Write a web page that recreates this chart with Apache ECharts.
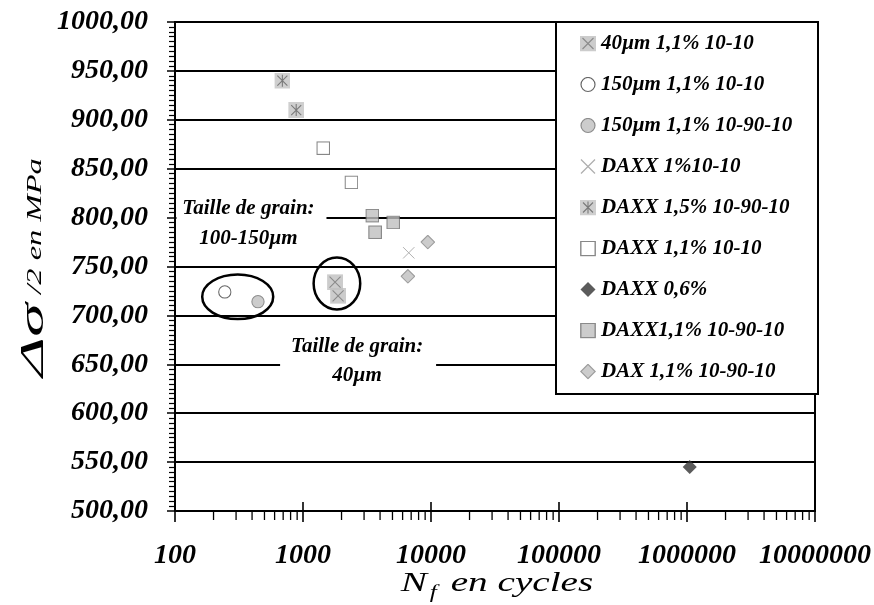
<!DOCTYPE html>
<html>
<head>
<meta charset="utf-8">
<script src="https://cdn.jsdelivr.net/npm/echarts@6.0.0/dist/echarts.min.js"></script>
<style>
html, body { margin: 0; padding: 0; background: #fff; }
#chart { width: 874px; height: 605px; }
</style>
</head>
<body>
<div id="chart"></div>
<script>
// decades on the cycles axis, and the 2..9 minor steps inside each decade
var cycleTicks = [100, 1000, 10000, 100000, 1000000, 10000000];
var minorSteps = [2, 3, 4, 5, 6, 7, 8, 9];

// [cycles to failure, stress amplitude MPa]
var g40_1010 = [[1780, 734], [1880, 720]];
var g150_1010 = [[245, 724]];
var g150_109010 = [[445, 714]];
var daxx1_1010 = [[6700, 764]];
var daxx15_109010 = [[690, 940], [885, 910]];
var daxx11_1010 = [[1440, 871], [2390, 836]];
var daxx06 = [[1050000, 545]];
var daxx11_109010 = [[3480, 802], [3660, 785], [5070, 795]];
var dax11_109010 = [[9440, 775], [6600, 740]];

var seriesNames = ['40µm 1,1% 10-10', '150µm 1,1% 10-10', '150µm 1,1% 10-90-10',
  'DAXX 1%10-10', 'DAXX 1,5% 10-90-10', 'DAXX 1,1% 10-10', 'DAXX 0,6%',
  'DAXX1,1% 10-90-10', 'DAX 1,1% 10-90-10'];
var seriesData = [g40_1010, g150_1010, g150_109010, daxx1_1010, daxx15_109010,
  daxx11_1010, daxx06, daxx11_109010, dax11_109010];

var serif = '"Liberation Serif", "Times New Roman", serif';

function svgSymbol(inner) {
  return 'image://data:image/svg+xml;charset=utf-8,' + encodeURIComponent(
    '<svg xmlns="http://www.w3.org/2000/svg" width="32" height="32" viewBox="0 0 16 16">' + inner + '</svg>');
}

var symbols = [
  svgSymbol('<rect width="16" height="16" fill="#c0c0c0"/><path d="M2.5 2.5L13.5 13.5M13.5 2.5L2.5 13.5" stroke="#6e6e6e" stroke-width="1.1" fill="none"/>'),
  svgSymbol('<circle cx="8" cy="8" r="7" fill="#fff" stroke="#404040" stroke-width="1.2"/>'),
  svgSymbol('<circle cx="8" cy="8" r="7" fill="#c0c0c0" stroke="#707070" stroke-width="1.2"/>'),
  svgSymbol('<path d="M1 1L15 15M15 1L1 15" stroke="#9a9a9a" stroke-width="1.2" fill="none"/>'),
  svgSymbol('<rect width="16" height="16" fill="#c4c4c4"/><path d="M8 2V14M3 3L13 13M13 3L3 13" stroke="#5a5a5a" stroke-width="1.1" fill="none"/>'),
  svgSymbol('<rect x="0.8" y="0.8" width="14.4" height="14.4" fill="#fff" stroke="#6a6a6a" stroke-width="1.4"/>'),
  svgSymbol('<path d="M8 0.5L15.5 8L8 15.5L0.5 8Z" fill="#333"/>'),
  svgSymbol('<rect x="0.8" y="0.8" width="14.4" height="14.4" fill="#c0c0c0" stroke="#6e6e6e" stroke-width="1.4"/>'),
  svgSymbol('<path d="M8 0.8L15.2 8L8 15.2L0.8 8Z" fill="#c0c0c0" stroke="#858585" stroke-width="1.2"/>')
];
var sizes = [16, 14, 14, 13, 16, 14, 15, 14, 15];

// tick marks along the log axis: [value, y, isMajor]
var xTickData = [];
cycleTicks.forEach(function (v) { xTickData.push([v, 500, 1]); });
cycleTicks.slice(0, -1).forEach(function (d) {
  minorSteps.forEach(function (k) { xTickData.push([d * k, 500, 0]); });
});

var chart = echarts.init(document.getElementById('chart'));

var series = seriesNames.map(function (name, i) {
  return {
    name: name,
    type: 'scatter',
    data: seriesData[i],
    symbol: symbols[i],
    symbolSize: sizes[i],
    z: 4
  };
});
series.push({
  type: 'custom',
  name: 'ticks',
  silent: true,
  clip: false,
  z: 3,
  data: xTickData,
  renderItem: function (params, api) {
    var p = api.coord([api.value(0), api.value(1)]);
    var major = api.value(2) === 1;
    return {
      type: 'line',
      shape: { x1: p[0], y1: major ? p[1] - 9 : p[1], x2: p[0], y2: p[1] + (major ? 11 : 9) },
      style: { stroke: '#000', lineWidth: major ? 1.6 : 1.3 }
    };
  }
});

var option = {
  animation: false,
  backgroundColor: '#fff',
  grid: {
    left: 175, right: 56, top: 22, bottom: 94,
    show: true, borderColor: '#000', borderWidth: 2
  },
  legend: {
    data: seriesNames,
    orient: 'vertical',
    left: 580,
    top: 33,
    padding: 0,
    itemWidth: 16,
    itemHeight: 16,
    itemGap: 20,
    selectedMode: false,
    textStyle: {
      fontFamily: serif, fontStyle: 'italic', fontWeight: 'bold',
      fontSize: 21, lineHeight: 21, color: '#000'
    }
  },
  xAxis: {
    type: 'log',
    logBase: 10,
    min: 100,
    max: 10000000,
    axisLine: { show: true, lineStyle: { color: '#000', width: 2 } },
    axisTick: { show: false },
    splitLine: { show: false },
    axisLabel: {
      margin: 31,
      fontFamily: serif, fontStyle: 'italic', fontWeight: 'bold',
      fontSize: 28, color: '#000',
      formatter: function (v) { return String(Math.round(v)); }
    }
  },
  yAxis: {
    type: 'value',
    min: 500,
    max: 1000,
    interval: 50,
    axisLine: { show: true, lineStyle: { color: '#000', width: 2 } },
    axisTick: { show: true, length: 8, lineStyle: { color: '#000', width: 1.5 } },
    minorTick: { show: true, splitNumber: 10, length: 6, lineStyle: { color: '#000', width: 1.2 } },
    splitLine: { show: true, lineStyle: { color: '#000', width: 2 } },
    axisLabel: {
      margin: 27,
      fontFamily: serif, fontStyle: 'italic', fontWeight: 'bold',
      fontSize: 28, color: '#000',
      formatter: function (v) { return v.toFixed(2).replace('.', ','); }
    }
  },
  series: series
};

chart.setOption(option);

// annotations anchored in data space
function px(pt) { return chart.convertToPixel({ gridIndex: 0 }, pt); }
var ell1 = px([309, 719]);
var ell2 = px([1841, 732.6]);
var note1 = px([375, 794.3]);
var note2 = px([2646, 652.9]);
var noteFont = 'italic bold 21px ' + serif;

chart.setOption({
  graphic: [
    { type: 'rect', z: 3, shape: { x: 556, y: 22, width: 262, height: 372 },
      style: { fill: '#fff', stroke: '#000', lineWidth: 2 } },
    { type: 'ellipse', z: 5, shape: { cx: ell1[0], cy: ell1[1], rx: 35.5, ry: 22.3 },
      style: { fill: 'none', stroke: '#000', lineWidth: 2.5 } },
    { type: 'ellipse', z: 5, shape: { cx: ell2[0], cy: ell2[1], rx: 23.3, ry: 26 },
      style: { fill: 'none', stroke: '#000', lineWidth: 2.5 } },
    { type: 'rect', z: 5, shape: { x: note1[0] - 72, y: note1[1] - 28, width: 150, height: 57 },
      style: { fill: '#fff' } },
    { type: 'text', z: 6, x: note1[0], y: note1[1],
      style: { text: 'Taille de grain:\n100-150µm', font: noteFont, fill: '#000',
        align: 'center', verticalAlign: 'middle', lineHeight: 30 } },
    { type: 'rect', z: 5, shape: { x: note2[0] - 77, y: note2[1] - 28, width: 156, height: 57 },
      style: { fill: '#fff' } },
    { type: 'text', z: 6, x: note2[0], y: note2[1],
      style: { text: 'Taille de grain:\n40µm', font: noteFont, fill: '#000',
        align: 'center', verticalAlign: 'middle', lineHeight: 29 } },
    // axis titles
    { type: 'text', z: 6, x: 34, y: 340, rotation: Math.PI / 2, scaleX: 2.0,
      style: { text: 'Δσ', font: 'italic 34px ' + serif, fill: '#000',
        align: 'center', verticalAlign: 'middle' } },
    { type: 'text', z: 6, x: 35, y: 226, rotation: Math.PI / 2, scaleX: 1.48,
      style: { text: '/2 en MPa', font: 'italic 22px ' + serif, fill: '#000',
        align: 'center', verticalAlign: 'middle' } },
    { type: 'text', z: 6, x: 497, y: 584, scaleX: 1.4,
      style: {
        text: '{n|N}{s|f}{n| en cycles}', fill: '#000', align: 'center', verticalAlign: 'middle',
        rich: {
          n: { fontFamily: serif, fontStyle: 'italic', fontSize: 28, lineHeight: 36, verticalAlign: 'middle' },
          s: { fontFamily: serif, fontStyle: 'italic', fontSize: 18, lineHeight: 36, verticalAlign: 'bottom', padding: [0, 3, 0, 2] }
        }
      } }
  ]
});

window.addEventListener('resize', function () { chart.resize(); });
</script>
</body>
</html>
